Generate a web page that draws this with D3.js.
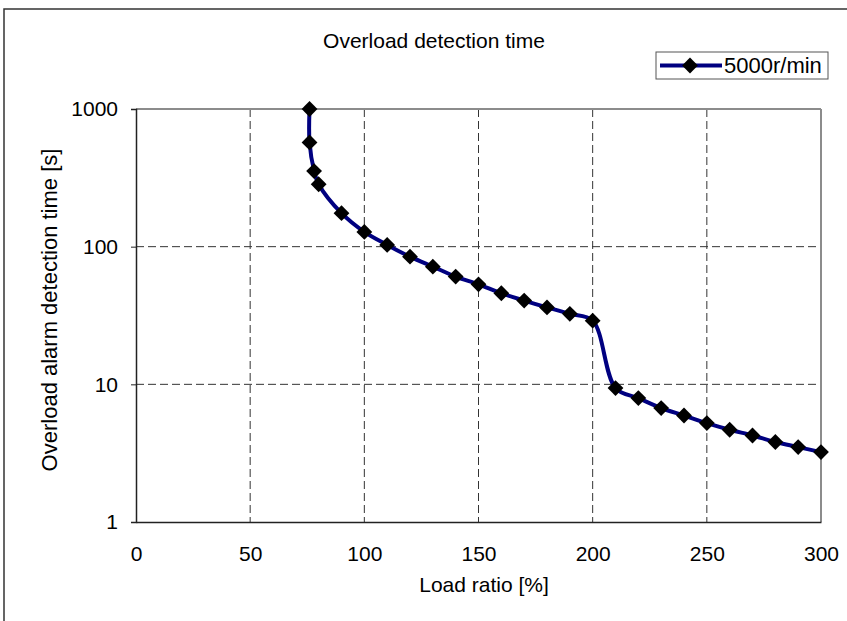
<!DOCTYPE html>
<html>
<head>
<meta charset="utf-8">
<script src="https://cdn.jsdelivr.net/npm/d3@7"></script>
<style>
  body { margin: 0; background: #fff; }
  text { font-family: "Liberation Sans", Arial, sans-serif; fill: #000; }
</style>
</head>
<body>
<div id="chart"></div>
<script>
// load ratio [%] and the detection time [s]
var loadRatio = [76, 76, 78, 80, 90, 100, 110, 120, 130, 140, 150, 160, 170, 180, 190, 200,
                 210, 220, 230, 240, 250, 260, 270, 280, 290, 300];
var detectTime = [1000, 572, 354, 284, 175, 128, 103, 84.6, 71.6, 60.6, 53.3, 45.9, 40.6, 36.2, 32.5, 29,
                  9.4, 7.94, 6.72, 5.94, 5.23, 4.68, 4.25, 3.81, 3.5, 3.22];
var xTicks = [0, 50, 100, 150, 200, 250, 300];
var yTicks = [1, 10, 100, 1000];
var seriesName = "5000r/min";

var W = 847, H = 621;
var fontSize = "21px";
// plot area edges (note: "top" is taken by window.top, so use other names)
var pLeft = 136, pRight = 821, pTop = 109, pBottom = 522;

var svg = d3.select("#chart").append("svg")
    .attr("width", W)
    .attr("height", H);

// outer frame of the chart object
svg.append("rect")
    .attr("x", 4).attr("y", 9)
    .attr("width", W + 10).attr("height", H + 10)
    .attr("fill", "none")
    .attr("stroke", "#333")
    .attr("stroke-width", 1.5);

var x = d3.scaleLinear().domain([0, 300]).range([pLeft, pRight]);
var y = d3.scaleLog().domain([1, 1000]).range([pBottom, pTop]);

// dashed gridlines
svg.selectAll("line.vgrid")
    .data(xTicks.filter(function(d) { return d > 0 && d < 300; }))
    .enter().append("line")
    .attr("class", "vgrid")
    .attr("x1", function(d) { return x(d); })
    .attr("x2", function(d) { return x(d); })
    .attr("y1", pTop).attr("y2", pBottom)
    .attr("stroke", "#333")
    .attr("stroke-dasharray", "8,4");

svg.selectAll("line.hgrid")
    .data(yTicks.filter(function(d) { return d > 1 && d < 1000; }))
    .enter().append("line")
    .attr("class", "hgrid")
    .attr("x1", pLeft).attr("x2", pRight)
    .attr("y1", function(d) { return y(d); })
    .attr("y2", function(d) { return y(d); })
    .attr("stroke", "#333")
    .attr("stroke-dasharray", "8,4");

// plot area border: grey top and right, dark axes left and bottom
svg.append("line")
    .attr("x1", pLeft).attr("x2", pRight).attr("y1", pTop).attr("y2", pTop)
    .attr("stroke", "#8c8c8c").attr("stroke-width", 2);
svg.append("line")
    .attr("x1", pRight).attr("x2", pRight).attr("y1", pTop).attr("y2", pBottom)
    .attr("stroke", "#8c8c8c").attr("stroke-width", 2);

var yAxis = d3.axisLeft(y)
    .tickValues(yTicks)
    .tickFormat(d3.format("d"))
    .tickSize(5)
    .tickPadding(13);
var gy = svg.append("g")
    .attr("transform", "translate(" + pLeft + ",0)")
    .call(yAxis);
gy.select(".domain").attr("stroke", "#222").attr("stroke-width", 1.5);
gy.selectAll(".tick line").attr("stroke", "#222");
gy.selectAll(".tick text")
    .style("font-family", "Liberation Sans, Arial, sans-serif")
    .style("font-size", fontSize)
    .attr("fill", "#000");

var xAxis = d3.axisBottom(x)
    .tickValues(xTicks)
    .tickSize(0)
    .tickPadding(24);
var gx = svg.append("g")
    .attr("transform", "translate(0," + pBottom + ")")
    .call(xAxis);
gx.select(".domain").attr("stroke", "#222").attr("stroke-width", 1.5);
gx.selectAll(".tick text")
    .style("font-family", "Liberation Sans, Arial, sans-serif")
    .style("font-size", fontSize)
    .attr("fill", "#000");

// smoothed line like the spreadsheet's
var points = loadRatio.map(function(d, i) { return [d, detectTime[i]]; });
var line = d3.line()
    .x(function(d) { return x(d[0]); })
    .y(function(d) { return y(d[1]); })
    .curve(d3.curveCatmullRom.alpha(0.5));

svg.append("path")
    .datum(points)
    .attr("d", line)
    .attr("fill", "none")
    .attr("stroke", "#000080")
    .attr("stroke-width", 4);

var diamond = d3.symbol().type(d3.symbolSquare).size(125);
svg.selectAll("path.marker")
    .data(points)
    .enter().append("path")
    .attr("class", "marker")
    .attr("d", diamond)
    .attr("transform", function(d) {
        return "translate(" + x(d[0]) + "," + y(d[1]) + ") rotate(45)";
    })
    .attr("fill", "#000");

// titles
svg.append("text")
    .attr("x", 434).attr("y", 48)
    .attr("text-anchor", "middle")
    .style("font-size", fontSize)
    .text("Overload detection time");

svg.append("text")
    .attr("x", 484).attr("y", 592)
    .attr("text-anchor", "middle")
    .style("font-size", fontSize)
    .text("Load ratio [%]");

svg.append("text")
    .attr("transform", "translate(57,310) rotate(-90)")
    .attr("text-anchor", "middle")
    .style("font-size", "22px")
    .text("Overload alarm detection time [s]");

// legend
var lg = svg.append("g").attr("transform", "translate(656,52)");
lg.append("rect")
    .attr("width", 172).attr("height", 27)
    .attr("fill", "#fff")
    .attr("stroke", "#555");
lg.append("line")
    .attr("x1", 4).attr("x2", 66).attr("y1", 13.5).attr("y2", 13.5)
    .attr("stroke", "#000080").attr("stroke-width", 4);
lg.append("path")
    .attr("d", diamond)
    .attr("transform", "translate(34,13.5) rotate(45)")
    .attr("fill", "#000");
lg.append("text")
    .attr("x", 68).attr("y", 21)
    .style("font-size", "22px")
    .text(seriesName);
</script>
</body>
</html>
